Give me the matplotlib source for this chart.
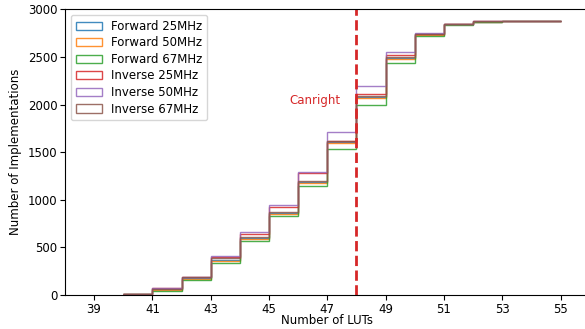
import numpy as np
import matplotlib
matplotlib.use('Agg')
import matplotlib.pyplot as plt
from matplotlib.patches import Patch

# bin edges (number of LUTs) and cumulative number of implementations per bin
lut_edges = np.arange(40, 56)
fwd_25 = [10, 60, 175, 370, 600, 860, 1190, 1610, 2080, 2490, 2735, 2840, 2870, 2880, 2880]
fwd_50 = [10, 55, 170, 360, 590, 850, 1180, 1600, 2070, 2480, 2730, 2840, 2870, 2880, 2880]
fwd_67 = [8, 45, 160, 335, 565, 830, 1150, 1530, 1990, 2440, 2720, 2835, 2870, 2880, 2880]
inv_25 = [15, 72, 195, 405, 640, 925, 1280, 1620, 2110, 2520, 2745, 2845, 2875, 2880, 2880]
inv_50 = [15, 75, 195, 410, 665, 945, 1290, 1710, 2190, 2550, 2750, 2850, 2875, 2880, 2880]
inv_67 = [12, 65, 185, 385, 610, 870, 1200, 1620, 2090, 2500, 2740, 2845, 2875, 2880, 2880]
labels = ['Forward 25MHz', 'Forward 50MHz', 'Forward 67MHz',
          'Inverse 25MHz', 'Inverse 50MHz', 'Inverse 67MHz']
canright_luts = 48

fig = plt.figure(figsize=(5.85, 3.29), dpi=100)
ax = fig.add_axes([0.111, 0.103, 0.897, 0.869])

series = [fwd_25, fwd_50, fwd_67, inv_25, inv_50, inv_67]
handles = []
for i, (vals, lab) in enumerate(zip(series, labels)):
    ax.stairs(vals, lut_edges, baseline=None, color='C%d' % i, lw=1.0, alpha=0.85)
    # histogram-style legend boxes
    handles.append(Patch(facecolor='none', edgecolor='C%d' % i, lw=1.0, alpha=0.85, label=lab))

ax.axvline(canright_luts, color='#d62728', ls='--', lw=2)
ax.text(47.45, 2040, 'Canright', color='#d62728', fontsize=8.5, ha='right', va='center')

ax.set_xlim(38, 56)
ax.set_ylim(0, 3000)
ax.set_xticks(np.arange(39, 56, 2))
ax.tick_params(labelsize=8.5, pad=2)
ax.set_xlabel('Number of LUTs', fontsize=8.5, labelpad=-1)
ax.set_ylabel('Number of Implementations', fontsize=8.5)
ax.legend(handles=handles, loc='upper left', fontsize=8.5, handlelength=2.2, labelspacing=0.3)

fig.savefig('out.png', dpi=100)
